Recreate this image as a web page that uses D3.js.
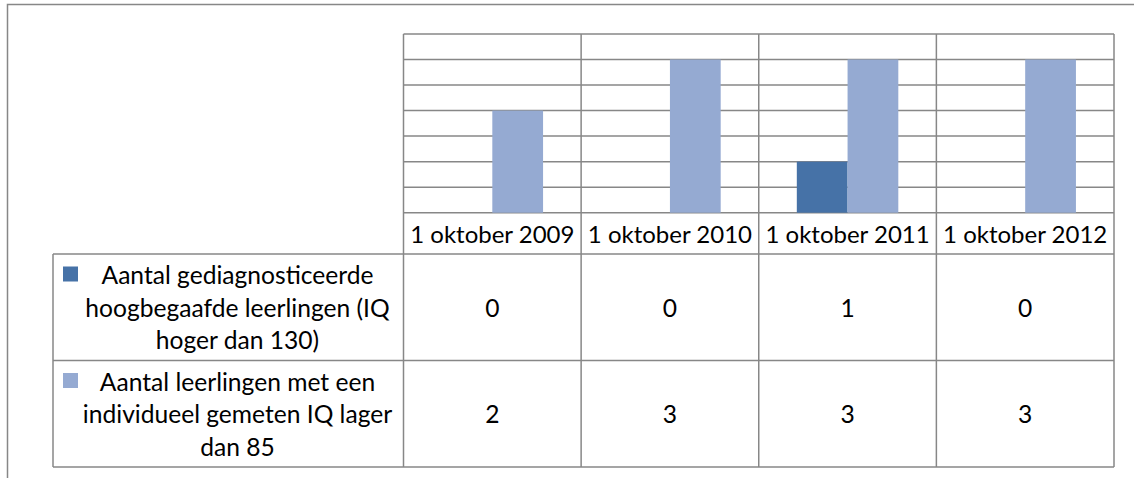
<!DOCTYPE html>
<head>
  <meta charset="utf-8">
  <title>Leerlingen IQ</title>
  <style>
    body { margin: 0; background: #fff; }
    svg text { font-family: Lato, "Open Sans", sans-serif; fill: #000; }
  </style>
</head>
<body>
  <script src="https://cdn.jsdelivr.net/npm/d3@7"></script>
  <script>
    // data
    var categories = ["1 oktober 2009", "1 oktober 2010", "1 oktober 2011", "1 oktober 2012"];
    var seriesNames = [
      "Aantal gediagnosticeerde hoogbegaafde leerlingen (IQ hoger dan 130)",
      "Aantal leerlingen met een individueel gemeten IQ lager dan 85"
    ];
    // line breaks as they appear in the table
    var seriesLines = [
      ["Aantal gediagnosticeerde", "hoogbegaafde leerlingen (IQ", "hoger dan 130)"],
      ["Aantal leerlingen met een", "individueel gemeten IQ lager", "dan 85"]
    ];
    var hoogbegaafd = [0, 0, 1, 0];
    var iqLager = [2, 3, 3, 3];
    var values = [hoogbegaafd, iqLager];
    var colors = ["#4672a7", "#95aad2"];

    var W = 1134, H = 478;
    var lineColor = "#878787";
    var fontSize = 24.6;
    var catFontSize = 24;

    // plot area / data table geometry
    var plot = {left: 403.5, right: 1114, top: 34, bottom: 212.7};
    var tableLeft = 53;
    var labelRowBottom = 254;
    var rowH = 106.5;

    let svg = d3.select("body").append("svg")
      .attr("width", W)
      .attr("height", H);

    // chart area border (runs off the picture on right and bottom)
    svg.append("rect")
      .attr("x", 7.5).attr("y", 4.5)
      .attr("width", W + 20).attr("height", H + 20)
      .attr("fill", "none")
      .attr("stroke", lineColor)
      .attr("stroke-width", 1.5);

    let x0 = d3.scaleBand().domain(categories).range([plot.left, plot.right]).padding(0);
    let x1 = d3.scaleBand().domain(d3.range(seriesNames.length))
      .range([0, x0.bandwidth()]).paddingInner(0).paddingOuter(0.75);
    let y = d3.scaleLinear().domain([0, 3.5]).range([plot.bottom, plot.top]);

    // horizontal gridlines
    svg.append("g").attr("id", "grid")
      .selectAll("line")
      .data(y.ticks(7))
      .enter().append("line")
      .attr("x1", plot.left).attr("x2", plot.right)
      .attr("y1", d => y(d)).attr("y2", d => y(d))
      .attr("stroke", lineColor)
      .attr("stroke-width", 1.5);

    // bars
    let groups = svg.append("g").attr("id", "bars")
      .selectAll("g")
      .data(values)
      .enter().append("g")
      .attr("fill", (d, i) => colors[i])
      .attr("data-series", (d, i) => i);

    groups.each(function(vals, si) {
      d3.select(this).selectAll("rect")
        .data(vals)
        .enter().append("rect")
        .attr("x", (d, ci) => x0(categories[ci]) + x1(si))
        .attr("width", x1.bandwidth())
        .attr("y", d => y(d))
        .attr("height", d => y(0) - y(d));
    });

    // data table
    let table = svg.append("g").attr("id", "data_table");
    let tableBottom = labelRowBottom + rowH * seriesNames.length;

    // vertical lines between categories (through plot and table)
    let edges = categories.map(c => x0(c)).concat([plot.right]);
    table.selectAll("line.v")
      .data(edges)
      .enter().append("line")
      .attr("class", "v")
      .attr("x1", d => d).attr("x2", d => d)
      .attr("y1", plot.top).attr("y2", tableBottom)
      .attr("stroke", lineColor).attr("stroke-width", 1.5);

    // left edge of the legend column
    table.append("line")
      .attr("x1", tableLeft).attr("x2", tableLeft)
      .attr("y1", labelRowBottom).attr("y2", tableBottom)
      .attr("stroke", lineColor).attr("stroke-width", 1.5);

    // horizontal row lines
    let rowLines = [labelRowBottom];
    for (let i = 0; i < seriesNames.length; i++) rowLines.push(labelRowBottom + rowH * (i + 1));
    table.selectAll("line.h")
      .data(rowLines)
      .enter().append("line")
      .attr("class", "h")
      .attr("x1", tableLeft).attr("x2", plot.right)
      .attr("y1", d => d).attr("y2", d => d)
      .attr("stroke", lineColor).attr("stroke-width", 1.5);

    // category labels
    table.selectAll("text.cat")
      .data(categories)
      .enter().append("text")
      .attr("class", "cat")
      .attr("x", d => x0(d) + x0.bandwidth() / 2)
      .attr("y", (plot.bottom + labelRowBottom) / 2)
      .attr("text-anchor", "middle")
      .attr("dominant-baseline", "central")
      .style("font-size", catFontSize + "px")
      .text(d => d);

    // rows: legend key, wrapped name, values
    seriesNames.forEach(function(name, si) {
      let top = labelRowBottom + rowH * si;
      let mid = top + rowH / 2;
      let row = table.append("g").attr("class", "row").attr("data-name", name);

      row.append("rect")
        .attr("x", 63).attr("y", top + 12.5)
        .attr("width", 15).attr("height", 15)
        .attr("fill", colors[si]);

      let lines = seriesLines[si];
      row.selectAll("text.name")
        .data(lines)
        .enter().append("text")
        .attr("class", "name")
        .attr("x", 237.5)
        .attr("y", (d, li) => mid + (li - (lines.length - 1) / 2) * 32.5)
        .attr("text-anchor", "middle")
        .attr("dominant-baseline", "central")
        .style("font-size", fontSize + "px")
        .text(d => d);

      row.selectAll("text.val")
        .data(values[si])
        .enter().append("text")
        .attr("class", "val")
        .attr("x", (d, ci) => x0(categories[ci]) + x0.bandwidth() / 2)
        .attr("y", mid)
        .attr("text-anchor", "middle")
        .attr("dominant-baseline", "central")
        .style("font-size", fontSize + "px")
        .text(d => d);
    });
  </script>
</body>
